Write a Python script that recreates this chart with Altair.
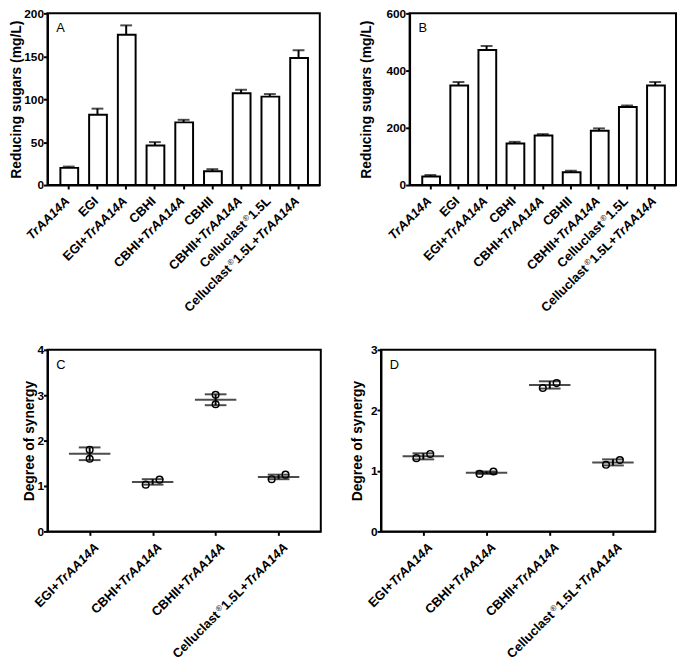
import altair as alt
import pandas as pd

FONT = "Liberation Sans"

# ---------------- data ----------------
categories = ["TrAA14A", "EGI", "EGI+TrAA14A", "CBHI", "CBHI+TrAA14A", "CBHII",
              "CBHII+TrAA14A", "Celluclast 1.5L", "Celluclast 1.5L+TrAA14A"]
a_means = [20, 82, 175, 46, 73, 16, 107, 103, 148]
a_errors = [1.5, 7, 11, 4, 3, 2.5, 4, 3, 9]
b_means = [30, 348, 472, 145, 173, 45, 190, 273, 348]
b_errors = [5, 12, 14, 6, 5, 5, 8, 5, 12]
a_ticks = [0, 50, 100, 150, 200]
b_ticks = [0, 200, 400, 600]

syn_categories = ["EGI+TrAA14A", "CBHI+TrAA14A", "CBHII+TrAA14A", "Celluclast 1.5L+TrAA14A"]
c_means = [1.71, 1.09, 2.90, 1.20]
c_sds = [0.14, 0.06, 0.12, 0.05]
c_rep1 = [1.80, 1.03, 3.01, 1.15]
c_rep2 = [1.60, 1.14, 2.80, 1.25]
c_spread1 = [0, -1, 0, -1]
c_spread2 = [0, 1, 0, 1]
d_means = [1.24, 0.97, 2.42, 1.14]
d_sds = [0.05, 0.02, 0.06, 0.05]
d_rep1 = [1.21, 0.95, 2.37, 1.10]
d_rep2 = [1.28, 0.99, 2.45, 1.18]
d_spread1 = [-1, -1, -1, -1]
d_spread2 = [1, 1, 1, 1]
c_ticks = [0, 1, 2, 3, 4]
d_ticks = [0, 1, 2, 3]

# label pieces: n = bold upright, i = bold italic, s = superscript
label_parts = {
    "TrAA14A": [("TrAA14A", "i")],
    "EGI": [("EGI", "n")],
    "EGI+TrAA14A": [("EGI+", "n"), ("TrAA14A", "i")],
    "CBHI": [("CBHI", "n")],
    "CBHI+TrAA14A": [("CBHI+", "n"), ("TrAA14A", "i")],
    "CBHII": [("CBHII", "n")],
    "CBHII+TrAA14A": [("CBHII+", "n"), ("TrAA14A", "i")],
    "Celluclast 1.5L": [("Celluclast", "n"), ("®", "s"), ("1.5L", "n")],
    "Celluclast 1.5L+TrAA14A": [("Celluclast", "n"), ("®", "s"), ("1.5L+", "n"), ("TrAA14A", "i")],
}

# ---------------- text layout helpers ----------------
GLYPH_W = {' ': 278, '+': 584, '.': 278, '1': 556, '4': 556, '5': 556, 'A': 722, 'B': 722,
           'C': 722, 'E': 667, 'G': 778, 'H': 722, 'I': 278, 'L': 611, 'T': 611, 'a': 556,
           'c': 556, 'e': 556, 'l': 278, 'r': 389, 's': 556, 't': 333, 'u': 611, '®': 737}
XFS = 13
SFS = 8
ANCHOR_DX, ANCHOR_DY = 3, 10
C45 = 0.7071


def seg_width(text, style):
    fs = SFS if style == "s" else XFS
    return sum(GLYPH_W.get(ch, 556) for ch in text) * fs / 1000.0


def label_frame(cats, height):
    rows = []
    for c in cats:
        parts = label_parts[c]
        d = 0.0
        for i in range(len(parts) - 1, -1, -1):
            text, style = parts[i]
            if style == "s":
                d += 0.8
            rows.append(dict(cat=c, text=text, style=style,
                             xo=ANCHOR_DX - C45 * d, ypix=height + ANCHOR_DY + C45 * d))
            d += seg_width(text, style)
            if style == "s":
                d += 1.5
    return pd.DataFrame(rows)


def label_layers(df, xs, x_axis):
    base = alt.Chart(df).encode(
        x=alt.X("cat:N", scale=xs, axis=x_axis),
        y=alt.Y("ypix:Q", scale=None),
        xOffset=alt.XOffset("xo:Q", scale=None),
        text="text:N",
    )
    common = dict(font=FONT, angle=315, align="right", baseline="top", color="black")
    n = base.transform_filter(alt.datum.style == "n").mark_text(fontSize=XFS, fontWeight="bold", **common)
    i = base.transform_filter(alt.datum.style == "i").mark_text(fontSize=XFS, fontWeight="bold",
                                                                fontStyle="italic", **common)
    s = base.transform_filter(alt.datum.style == "s").mark_text(fontSize=SFS, fontWeight="normal", **common)
    return [n, i, s]


def letter_layer(letter):
    return alt.Chart(pd.DataFrame({"t": [letter]})).mark_text(
        font=FONT, fontSize=13, align="left", baseline="top", color="black"
    ).encode(text="t:N", x=alt.value(9), y=alt.value(9))


def bar_panel(letter, means, errors, ticks, ymax, width, height, tpad):
    df = pd.DataFrame({"cat": categories, "mean": means, "err": errors})
    xs = alt.Scale(domain=categories, paddingInner=0.42, paddingOuter=0.45)
    ys = alt.Scale(domain=[0, ymax], nice=False)
    x_axis = alt.Axis(labels=False, title=None)
    y_axis = alt.Axis(values=ticks, title="Reducing sugars (mg/L)", titlePadding=tpad)
    bars = alt.Chart(df).mark_bar(fill="white", stroke="black", strokeWidth=2).encode(
        x=alt.X("cat:N", scale=xs, axis=x_axis),
        y=alt.Y("mean:Q", scale=ys, axis=y_axis),
    )
    err = alt.Chart(df).transform_calculate(top="datum.mean + datum.err")
    err_line = err.mark_rule(color="black", strokeWidth=2).encode(
        x=alt.X("cat:N", scale=xs, axis=x_axis),
        y=alt.Y("mean:Q", scale=ys, axis=y_axis), y2="top:Q")
    err_cap = err.mark_tick(color="black", thickness=2, size=12, orient="horizontal").encode(
        x=alt.X("cat:N", scale=xs, axis=x_axis),
        y=alt.Y("top:Q", scale=ys, axis=y_axis))
    labels = label_layers(label_frame(categories, height), xs, x_axis)
    return alt.layer(bars, err_line, err_cap, *labels, letter_layer(letter)).properties(
        width=width, height=height)


def syn_panel(letter, means, sds, rep1, rep2, sp1, sp2, ticks, ymax, width, height, tpad):
    summ = pd.DataFrame({"cat": syn_categories, "mean": means, "sd": sds})
    pts = pd.DataFrame({"cat": syn_categories * 2, "val": rep1 + rep2, "spread": sp1 + sp2})
    xs = alt.Scale(type="point", domain=syn_categories, padding=0.67)
    ys = alt.Scale(domain=[0, ymax], nice=False)
    x_axis = alt.Axis(labels=False, title=None)
    y_axis = alt.Axis(values=ticks, title="Degree of synergy", titlePadding=tpad)
    X = alt.X("cat:N", scale=xs, axis=x_axis)
    mean_tick = alt.Chart(summ).mark_tick(color="black", thickness=2, size=42, orient="horizontal").encode(
        x=X, y=alt.Y("mean:Q", scale=ys, axis=y_axis))
    e = alt.Chart(summ).transform_calculate(lo="datum.mean - datum.sd", hi="datum.mean + datum.sd")
    err_line = e.mark_rule(color="black", strokeWidth=2).encode(
        x=X, y=alt.Y("lo:Q", scale=ys, axis=y_axis), y2="hi:Q")
    cap_hi = e.mark_tick(color="black", thickness=2, size=22, orient="horizontal").encode(
        x=X, y=alt.Y("hi:Q", scale=ys, axis=y_axis))
    cap_lo = e.mark_tick(color="black", thickness=2, size=22, orient="horizontal").encode(
        x=X, y=alt.Y("lo:Q", scale=ys, axis=y_axis))
    points = alt.Chart(pts).mark_point(shape="circle", filled=False, color="black",
                                       strokeWidth=1.5, size=45, opacity=1).encode(
        x=X,
        y=alt.Y("val:Q", scale=ys, axis=y_axis),
        xOffset=alt.XOffset("spread:Q", scale=alt.Scale(domain=[-1, 1], range=[-7, 7])),
    )
    labels = label_layers(label_frame(syn_categories, height), xs, x_axis)
    return alt.layer(mean_tick, err_line, cap_hi, cap_lo, points, *labels, letter_layer(letter)).properties(
        width=width, height=height)


A = bar_panel("A", a_means, a_errors, a_ticks, 200, 276, 174, 0)
B = bar_panel("B", b_means, b_errors, b_ticks, 600, 270, 174, 13)
C = syn_panel("C", c_means, c_sds, c_rep1, c_rep2, c_spread1, c_spread2, c_ticks, 4, 277, 184, 0)
D = syn_panel("D", d_means, d_sds, d_rep1, d_rep2, d_spread1, d_spread2, d_ticks, 3, 278, 184, 6)

chart = alt.vconcat(
    alt.hconcat(A, B, spacing=37),
    alt.hconcat(C, D, spacing=28),
    spacing=27,
).properties(
    padding={"left": 0, "top": -6, "right": 0, "bottom": 0}
).configure_axis(
    domainColor="black", domainWidth=2, tickColor="black", tickWidth=2, tickSize=4,
    labelFont=FONT, labelFontSize=12, labelFontWeight="bold", labelColor="black", labelPadding=0,
    titleFont=FONT, titleFontSize=14, titleFontWeight="bold", titleColor="black", grid=False,
).configure_view(stroke="black", strokeWidth=2)

chart.save("out.html", embed_options={"renderer": "svg", "actions": False})
